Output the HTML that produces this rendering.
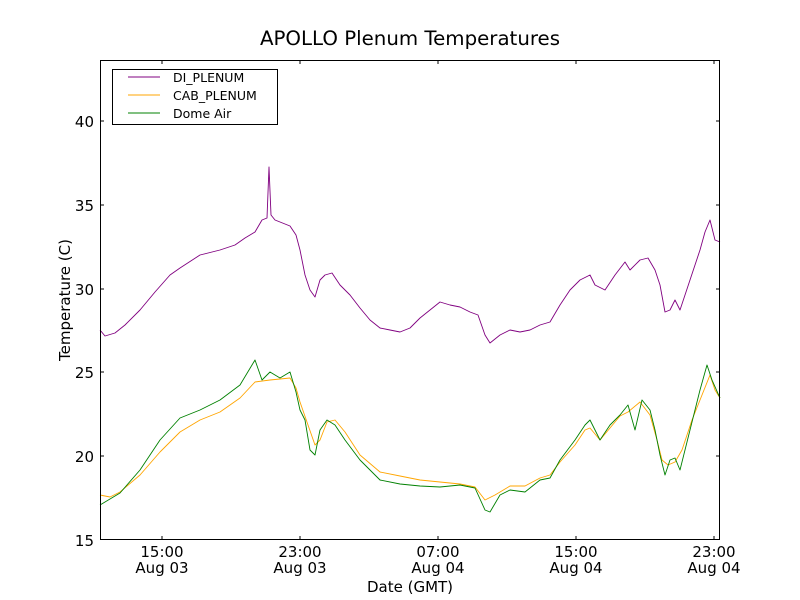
<!DOCTYPE html>
<html><head><style>body{margin:0;background:#fff}svg{display:block}text{font-family:"DejaVu Sans","Liberation Sans",sans-serif}</style></head><body>
<svg width="800" height="600" xmlns="http://www.w3.org/2000/svg">
<rect width="800" height="600" fill="#fff"/>
<text x="410" y="45" font-size="19.8" text-anchor="middle">APOLLO Plenum Temperatures</text>
<g fill="none" stroke-width="0.9" stroke-linejoin="round">
<polyline stroke="#800080" points="100,330 105,336 115,333 125,325 140,310 155,292 170,275 180,268 200,255 220,250 235,245 245,238 255,232 262,220 267,218 269,167 271,215 275,220 280,222 290,226 296,235 300,250 305,275 310,290 315,297 320,280 325,275 332,273 340,285 350,295 360,308 370,320 380,328 390,330 400,332 410,328 420,318 430,310 440,302 450,305 460,307 470,312 478,315 485,335 490,343 500,335 510,330 520,332 530,330 540,325 550,322 560,305 570,290 580,280 590,275 595,285 605,290 615,275 625,262 630,270 640,260 648,258 655,270 660,285 665,312 670,310 675,300 680,310 690,280 700,250 705,232 710,220 715,240 720,242"/>
<polyline stroke="#ffa500" points="100,495 110,497 120,492 140,475 160,452 180,432 200,420 220,412 240,398 255,382 270,380 290,378 296,388 300,402 308,425 315,445 320,440 327,422 335,420 345,432 360,455 380,472 400,476 420,480 440,482 460,484 475,487 485,500 495,495 510,486 525,486 540,478 550,475 560,462 575,445 585,430 590,428 600,440 610,428 620,416 628,412 640,402 650,415 657,440 662,460 668,465 675,462 682,450 692,420 702,395 710,375 715,390 720,398"/>
<polyline stroke="#008000" points="100,505 105,502 120,493 140,470 160,440 180,418 200,410 220,400 240,385 255,360 262,380 270,372 280,378 290,372 296,392 300,410 305,420 310,450 315,455 320,430 327,420 335,425 345,440 360,460 380,480 400,484 420,486 440,487 460,485 475,488 485,510 490,512 500,495 510,490 525,492 540,480 550,478 560,460 575,440 585,425 590,420 600,440 610,425 620,415 628,405 635,430 642,400 650,410 655,430 660,455 665,475 670,460 675,458 680,470 690,430 700,390 707,365 712,380 720,398"/>
</g>
<rect x="100.5" y="60.5" width="619" height="479" fill="none" stroke="#000"/>
<g stroke="#000">
<line x1="100" y1="456" x2="104" y2="456"/><line x1="100" y1="372" x2="104" y2="372"/><line x1="100" y1="289" x2="104" y2="289"/><line x1="100" y1="205" x2="104" y2="205"/><line x1="100" y1="121" x2="104" y2="121"/>
<line x1="720" y1="456" x2="716" y2="456"/><line x1="720" y1="372" x2="716" y2="372"/><line x1="720" y1="289" x2="716" y2="289"/><line x1="720" y1="205" x2="716" y2="205"/><line x1="720" y1="121" x2="716" y2="121"/>
<line x1="162" y1="540" x2="162" y2="536"/><line x1="300" y1="540" x2="300" y2="536"/><line x1="438" y1="540" x2="438" y2="536"/><line x1="576" y1="540" x2="576" y2="536"/><line x1="714" y1="540" x2="714" y2="536"/>
<line x1="162" y1="60" x2="162" y2="64"/><line x1="300" y1="60" x2="300" y2="64"/><line x1="438" y1="60" x2="438" y2="64"/><line x1="576" y1="60" x2="576" y2="64"/><line x1="714" y1="60" x2="714" y2="64"/>
</g>
<g font-size="15" text-anchor="end">
<text x="94" y="546">15</text><text x="94" y="462">20</text><text x="94" y="378">25</text><text x="94" y="295">30</text><text x="94" y="211">35</text><text x="94" y="127">40</text>
</g>
<g font-size="15" text-anchor="middle">
<text x="162" y="557">15:00</text><text x="162" y="573">Aug 03</text>
<text x="300" y="557">23:00</text><text x="300" y="573">Aug 03</text>
<text x="438" y="557">07:00</text><text x="438" y="573">Aug 04</text>
<text x="576" y="557">15:00</text><text x="576" y="573">Aug 04</text>
<text x="714" y="557">23:00</text><text x="714" y="573">Aug 04</text>
<text x="410" y="592">Date (GMT)</text>
</g>
<text font-size="15" text-anchor="middle" transform="translate(70,300) rotate(-90)">Temperature (C)</text>
<rect x="112.5" y="69.5" width="165" height="55" fill="#fff" stroke="#000"/>
<line x1="128" y1="77" x2="160" y2="77" stroke="#800080"/>
<line x1="128" y1="95" x2="160" y2="95" stroke="#ffa500"/>
<line x1="128" y1="113" x2="160" y2="113" stroke="#008000"/>
<g font-size="12.5"><text x="173" y="82">DI_PLENUM</text><text x="173" y="100">CAB_PLENUM</text><text x="173" y="118">Dome Air</text></g>
</svg>
</body></html>
